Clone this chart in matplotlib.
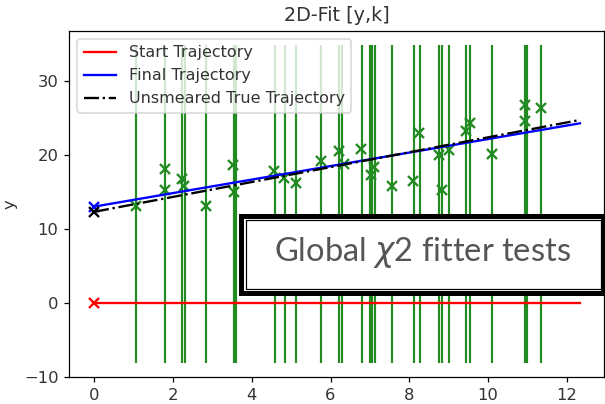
import matplotlib
matplotlib.use("Agg")
import matplotlib.pyplot as plt
from matplotlib.patches import Rectangle

# detector hit positions (vertical strips) and smeared measurements
hit_x = [1.06, 1.81, 2.24, 2.30, 2.83, 3.54, 3.59, 4.59, 4.85, 5.13, 5.77,
         6.22, 6.29, 6.79, 7.01, 7.06, 7.13, 7.55, 8.11, 8.26, 8.75, 8.82,
         9.00, 9.45, 9.54, 10.10, 10.94, 10.98, 11.35]
strip_lo = -8.1
strip_hi = 34.8

meas_x = [1.06, 1.80, 1.80, 2.24, 2.29, 2.83, 3.52, 3.55, 4.57, 4.83, 5.13,
          5.75, 6.22, 6.33, 6.78, 7.02, 7.11, 7.56, 8.10, 8.25, 8.76, 8.82,
          9.00, 9.44, 9.54, 10.09, 10.94, 10.94, 11.34]
meas_y = [13.1, 18.1, 15.25, 16.7, 15.8, 13.1, 18.6, 15.0, 17.8, 16.8, 16.15,
          19.2, 20.5, 18.8, 20.8, 17.3, 18.4, 15.8, 16.4, 23.0, 20.0, 15.25,
          20.6, 23.25, 24.3, 20.1, 26.7, 24.5, 26.3]

# trajectories: (x start, x end), (y start, y end)
traj_x = [0.0, 12.33]
start_y = [0.0, 0.0]
final_y = [13.0, 24.25]
true_y = [12.3, 24.7]

dpi = 112
fig = plt.figure(figsize=(605 / dpi, 404 / dpi), dpi=dpi)
ax = fig.add_axes([69.3 / 605, 1 - 377 / 404, (604 - 69.3) / 605, (377 - 30.7) / 404])

ax.vlines(hit_x, strip_lo, strip_hi, color="forestgreen", lw=1.4)
ax.plot(meas_x, meas_y, "x", color="forestgreen", ms=6, mew=1.5)

ax.plot(traj_x, start_y, color="red", lw=1.5, label="Start Trajectory")
ax.plot(traj_x[0], start_y[0], "x", color="red", ms=6, mew=1.5)
ax.plot(traj_x, final_y, color="blue", lw=1.5, label="Final Trajectory")
ax.plot(traj_x[0], final_y[0], "x", color="blue", ms=6, mew=1.5)
ax.plot(traj_x, true_y, "-.", color="black", lw=1.5, label="Unsmeared True Trajectory")
ax.plot(traj_x[0], true_y[0], "x", color="black", ms=6, mew=1.5)

ax.set_xlim(-0.63, 12.94)
ax.set_ylim(-10.0, 36.75)
ax.tick_params(labelsize=10.5, labelcolor="#333333")
ax.set_ylabel("y", fontsize=10.5, color="#333333")
ax.set_title("2D-Fit [y,k]", fontsize=12.3, color="#333333")
leg = ax.legend(loc="upper left", fontsize=10.3)
for t in leg.get_texts():
    t.set_color("#333333")

# banner
W, H = 605.0, 404.0
def fr(x0, y0, x1, y1):
    return (x0 / W, 1 - y1 / H), (x1 - x0) / W, (y1 - y0) / H

xy, w, h = fr(240.5, 215.5, 603, 292.5)
fig.patches.append(Rectangle(xy, w, h, transform=fig.transFigure, facecolor="white",
                             edgecolor="black", lw=3.2, zorder=5))
xy, w, h = fr(245.5, 219.5, 600.5, 288.5)
fig.patches.append(Rectangle(xy, w, h, transform=fig.transFigure, facecolor="white",
                             edgecolor="black", lw=0.8, zorder=6))
fig.text(422 / W, 1 - 253 / H, r"Global $\chi$2 fitter tests", family="Lato",
         fontsize=21, color="#555555", ha="center", va="center", zorder=7)

plt.savefig("out.png", dpi=dpi)
